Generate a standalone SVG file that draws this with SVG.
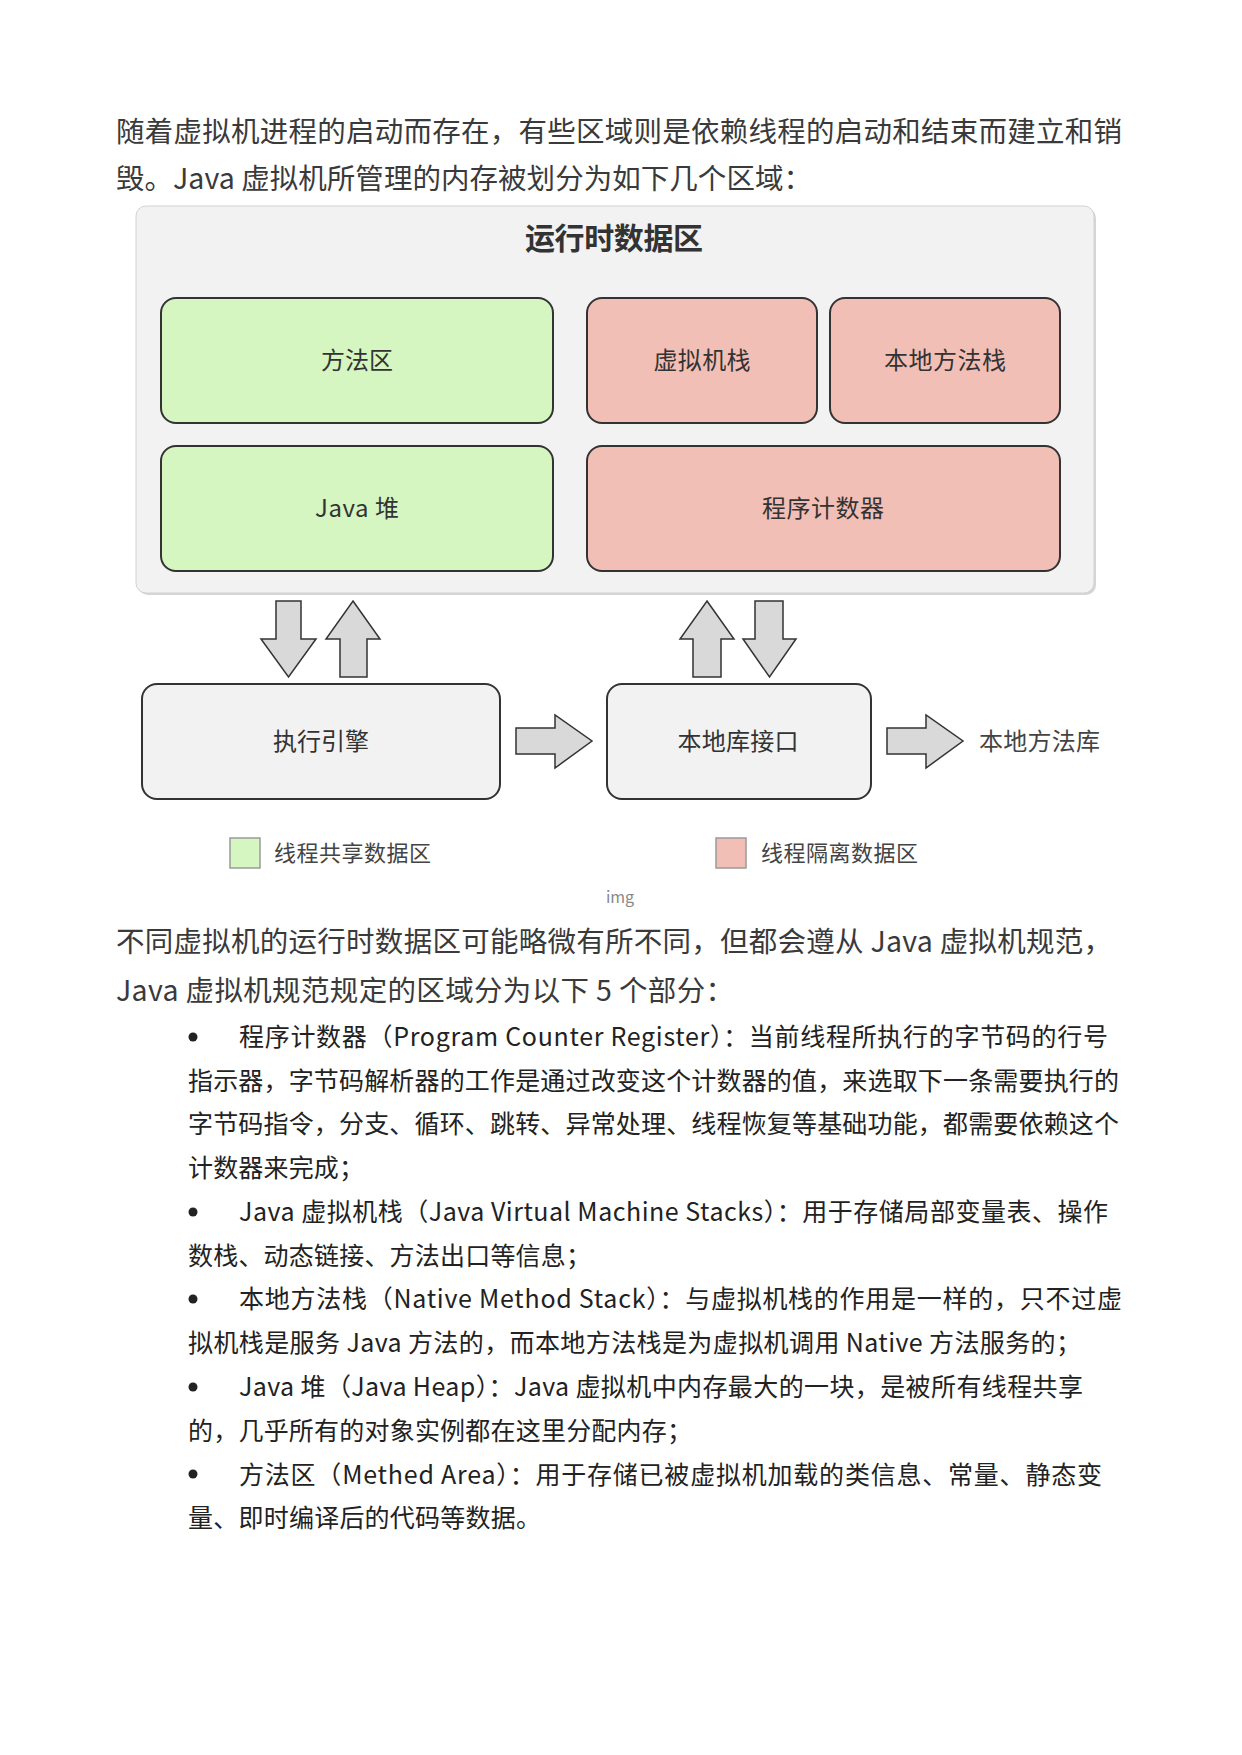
<svg xmlns="http://www.w3.org/2000/svg" width="1242" height="1755" viewBox="0 0 1242 1755">
<style>
text{font-family:"Noto Sans CJK SC","Noto Sans",sans-serif;fill:#333}
.p{font-size:28.5px;fill:#3a3a3a}
.b{font-size:25px;fill:#222}
.lbl{font-size:24px;text-anchor:middle;fill:#333}
.leg{font-size:22px;fill:#444}
.green{fill:#d5f5c1;stroke:#333;stroke-width:2}
.pink{fill:#f2bfb7;stroke:#333;stroke-width:2}
.gray{fill:#f2f2f2;stroke:#333;stroke-width:2}
.arr{fill:#d9d9d9;stroke:#333;stroke-width:1.5;stroke-linejoin:miter}
</style>
<rect x="0" y="0" width="1242" height="1755" fill="#ffffff"/>
<g id="para1">
<text class="p" x="116" y="142" textLength="1006" lengthAdjust="spacing">随着虚拟机进程的启动而存在，有些区域则是依赖线程的启动和结束而建立和销</text>
<text class="p" x="116" y="189" textLength="696" lengthAdjust="spacing">毁。Java 虚拟机所管理的内存被划分为如下几个区域：</text>
</g>
<g id="runtime-area">
<rect x="138" y="208" width="958" height="387" rx="10" fill="#d6d6d6"/>
<rect x="136" y="206" width="958" height="387" rx="10" fill="#f2f2f2" stroke="#d2d2d2" stroke-width="1"/>
<text x="614" y="249" font-size="30" font-weight="bold" text-anchor="middle" textLength="178" lengthAdjust="spacing">运行时数据区</text>
</g>
<g id="method-area">
<rect class="green" x="161" y="298" width="392" height="125" rx="15"/>
<text class="lbl" x="357" y="369" textLength="72" lengthAdjust="spacing">方法区</text>
</g>
<g id="vm-stack">
<rect class="pink" x="587" y="298" width="230" height="125" rx="15"/>
<text class="lbl" x="702" y="369" textLength="97" lengthAdjust="spacing">虚拟机栈</text>
</g>
<g id="native-stack">
<rect class="pink" x="830" y="298" width="230" height="125" rx="15"/>
<text class="lbl" x="945" y="369" textLength="122" lengthAdjust="spacing">本地方法栈</text>
</g>
<g id="java-heap">
<rect class="green" x="161" y="446" width="392" height="125" rx="15"/>
<text class="lbl" x="357" y="517" textLength="84" lengthAdjust="spacing">Java 堆</text>
</g>
<g id="pc-register">
<rect class="pink" x="587" y="446" width="473" height="125" rx="15"/>
<text class="lbl" x="823" y="517" textLength="122" lengthAdjust="spacing">程序计数器</text>
</g>
<g id="exec-engine">
<rect class="gray" x="142" y="684" width="358" height="115" rx="15"/>
<text class="lbl" x="321" y="750" textLength="96" lengthAdjust="spacing">执行引擎</text>
</g>
<g id="native-interface">
<rect class="gray" x="607" y="684" width="264" height="115" rx="15"/>
<text class="lbl" x="738" y="750" textLength="121" lengthAdjust="spacing">本地库接口</text>
</g>
<g id="native-lib">
<text class="leg" x="979" y="750" font-size="24" style="font-size:24px" textLength="121" lengthAdjust="spacing">本地方法库</text>
</g>
<g id="connectors">
<polygon class="arr" points="276,601 301,601 301,639 316,639 288.5,677 261,639 276,639"/>
<polygon class="arr" points="353,601 380,639 367,639 367,677 340,677 340,639 326,639"/>
<polygon class="arr" points="707,601 734,639 721,639 721,677 693,677 693,639 680,639"/>
<polygon class="arr" points="755,601 783,601 783,639 796,639 769.5,677 743,639 755,639"/>
<polygon class="arr" points="516,728 555,728 555,715 592,741 555,768 555,754 516,754"/>
<polygon class="arr" points="887,728 926,728 926,715 963,741 926,768 926,754 887,754"/>
</g>
<g id="legend-shared">
<rect x="230" y="838" width="30" height="30" fill="#d5f5c1" stroke="#9a9a9a" stroke-width="1.5"/>
<text class="leg" x="274" y="861" textLength="157" lengthAdjust="spacing">线程共享数据区</text>
</g>
<g id="legend-isolated">
<rect x="716" y="838" width="30" height="30" fill="#f2bfb7" stroke="#9a9a9a" stroke-width="1.5"/>
<text class="leg" x="761" y="861" textLength="157" lengthAdjust="spacing">线程隔离数据区</text>
</g>
<text x="620" y="903" font-size="16" text-anchor="middle" style="fill:#888">img</text>
<g id="para2">
<text class="p" x="116" y="952" textLength="996" lengthAdjust="spacing">不同虚拟机的运行时数据区可能略微有所不同，但都会遵从 Java 虚拟机规范，</text>
<text class="p" x="116" y="1001" textLength="618" lengthAdjust="spacing">Java 虚拟机规范规定的区域分为以下 5 个部分：</text>
</g>
<g id="bullets" fill="#222">
<circle cx="193" cy="1037" r="4.5"/>
<circle cx="193" cy="1212" r="4.5"/>
<circle cx="193" cy="1299" r="4.5"/>
<circle cx="193" cy="1387" r="4.5"/>
<circle cx="193" cy="1474" r="4.5"/>
<text class="b" x="239" y="1046" textLength="869" lengthAdjust="spacing">程序计数器（Program Counter Register）：当前线程所执行的字节码的行号</text>
<text class="b" x="188" y="1090" textLength="931" lengthAdjust="spacing">指示器，字节码解析器的工作是通过改变这个计数器的值，来选取下一条需要执行的</text>
<text class="b" x="188" y="1133" textLength="931" lengthAdjust="spacing">字节码指令，分支、循环、跳转、异常处理、线程恢复等基础功能，都需要依赖这个</text>
<text class="b" x="188" y="1177" textLength="176" lengthAdjust="spacing">计数器来完成；</text>
<text class="b" x="239" y="1221" textLength="869" lengthAdjust="spacing">Java 虚拟机栈（Java Virtual Machine Stacks）：用于存储局部变量表、操作</text>
<text class="b" x="188" y="1265" textLength="403" lengthAdjust="spacing">数栈、动态链接、方法出口等信息；</text>
<text class="b" x="239" y="1308" textLength="883" lengthAdjust="spacing">本地方法栈（Native Method Stack）：与虚拟机栈的作用是一样的，只不过虚</text>
<text class="b" x="188" y="1352" textLength="893" lengthAdjust="spacing">拟机栈是服务 Java 方法的，而本地方法栈是为虚拟机调用 Native 方法服务的；</text>
<text class="b" x="239" y="1396" textLength="844" lengthAdjust="spacing">Java 堆（Java Heap）：Java 虚拟机中内存最大的一块，是被所有线程共享</text>
<text class="b" x="188" y="1440" textLength="504" lengthAdjust="spacing">的，几乎所有的对象实例都在这里分配内存；</text>
<text class="b" x="239" y="1484" textLength="863" lengthAdjust="spacing">方法区（Methed Area）：用于存储已被虚拟机加载的类信息、常量、静态变</text>
<text class="b" x="188" y="1527" textLength="353" lengthAdjust="spacing">量、即时编译后的代码等数据。</text>
</g>
</svg>
